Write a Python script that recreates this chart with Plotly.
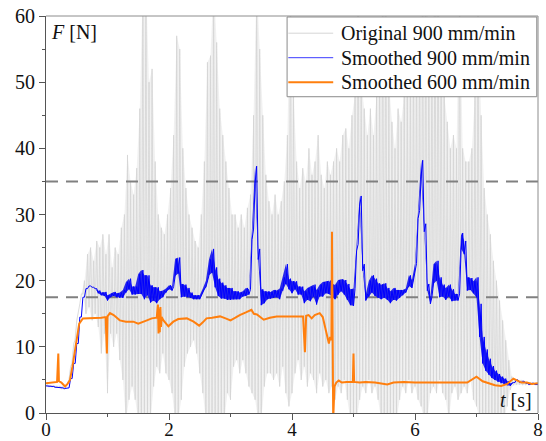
"""
Kuvvet - zaman grafigi: ham sinyal (900 mm/min) ve yumusatilmis egriler
"""

import numpy as np
import plotly.graph_objects as go

# Zaman izgarasi (0.05 s aralik) - gri ve mavi egriler icin
t_grid = np.round(np.arange(0, 8.0001, 0.05), 2)

# Ham sinyal zarfi (ust / alt)
gray_hi = [
    4.3, 4.2, 4.2, 4.1, 4.1, 4.0, 4.0, 5.0, 7.5, 11,
    15, 18, 20, 24, 25, 23, 26, 25, 27, 24,
    27, 22, 25, 24, 28, 30, 39, 35, 33, 37,
    46, 65, 65, 50, 52, 38, 30, 28, 27, 30,
    34, 42, 57, 55, 40, 34, 30, 28, 26, 25,
    30, 38, 53, 54, 65, 56, 46, 42, 38, 34,
    30, 30, 28, 30, 28, 31, 33, 45, 65, 55,
    45, 36, 32, 30, 33, 30, 32, 35, 42, 65,
    48, 38, 34, 37, 35, 40, 36, 38, 42, 36,
    34, 38, 36, 38, 40, 38, 42, 43, 40, 45,
    48, 65, 50, 46, 42, 46, 42, 48, 52, 65,
    65, 50, 44, 40, 46, 44, 48, 50, 52, 55,
    55, 58, 65, 65, 58, 56, 65, 65, 54, 48,
    44, 40, 42, 40, 65, 40, 38, 38, 40, 48,
    60, 45, 34, 30, 27, 23, 20, 17, 14, 11,
    8, 5.5, 5, 5, 5, 4.8, 4.6, 4.6, 4.5, 4.5,
    4.5,
]
gray_lo = [
    4.0, 3.9, 3.9, 3.8, 3.8, 3.6, 3.5, 4.5, 7, 10.5,
    14, 16.5, 18, 15, 16, 14, 15, 13, 9, 12,
    3, 12, 10, 12, 8, 5, -1, 2, 4, 2,
    -1, -1, -1, -1, -1, 4, 7, 6, 9, 6,
    5, 3, -1, -1, 2, 7, 9, 10, 11, 9,
    6, 3, -1, -1, -1, -1, -1, -1, -1, 3,
    2, 7, 8, 6, 8, 6, 4, 3, 2, -1,
    -1, 4, 6, 6, 5, 6, 4, 7, 3, 1,
    3, 6, 8, 5, 7, 4, 6, 5, 3, 6,
    4, 5, 3, 4, 2, 4, 3, 5, 2, -1,
    -1, -1, 2, 4, 3, 5, 3, 4, 2, -1,
    -1, -1, -1, -1, -1, 2, 4, 3, 5, 3,
    4, 2, 1, -1, -1, 3, 4, 3, 5, 3,
    2, -1, 3, 4, 2, 3, 4, 3, 5, 2,
    1, -1, -1, -1, -1, -1, -1, -1, -1, -1,
    1, 3.5, 4.2, 4.3, 4.3, 4.2, 4.2, 4.2, 4.3, 4.3,
    4.3,
]

# Yumusatilmis 900 mm/min: orta deger ve titresim genisligi
blue_mid = [
    4.1, 4.0, 4.0, 3.9, 3.9, 3.8, 3.7, 3.8, 5.2, 7.5,
    10.5, 14.5, 17.5, 18.8, 19.2, 19.0, 18.8, 18.3, 18.0, 18.0,
    17.4, 17.8, 18.0, 17.8, 17.8, 18.0, 19.0, 19.5, 18.5, 18.5,
    19.5, 19.8, 19.0, 19.3, 18.0, 18.0, 17.8, 17.8, 18.0, 18.5,
    19.0, 18.8, 22.0, 22.3, 18.5, 18.5, 18.2, 17.8, 17.5, 17.5,
    17.5, 18.5, 19.5, 22.0, 23.0, 20.5, 19.0, 18.5, 18.3, 18.0,
    18.0, 17.8, 17.8, 17.7, 18.0, 18.3, 18.3, 27.0, 36.0, 24.0,
    17.5, 17.5, 17.8, 17.8, 18.0, 18.0, 18.0, 19.5, 21.0, 19.5,
    19.0, 19.3, 18.5, 18.5, 17.5, 18.0, 18.0, 18.5, 17.5, 18.5,
    18.7, 19.0, 19.0, 18.5, 18.3, 19.0, 19.3, 19.0, 18.3, 17.5,
    17.5, 25.0, 32.0, 22.0, 17.5, 18.8, 19.5, 19.0, 18.5, 18.3,
    18.5, 18.0, 17.5, 18.0, 17.8, 18.0, 18.2, 18.5, 20.0, 19.5,
    22.0, 30.0, 37.0, 28.0, 19.0, 17.0, 21.0, 21.5, 19.0, 18.5,
    18.0, 18.5, 17.8, 17.5, 17.5, 26.0, 25.0, 19.5, 19.5, 19.0,
    19.0, 14.0, 9.5, 8.0, 7.0, 6.2, 5.7, 5.3, 5.0, 4.8,
    4.5, 4.3, 4.6, 5.0, 4.6, 4.8, 4.5, 4.3, 4.5, 4.3,
    4.3,
]
blue_fuzz = [
    0, 0, 0, 0, 0, 0, 0, 0, 0, 0,
    0, 0, 0, 0, 0, 0, 0, 0.2, 0.2, 0.3,
    0.4, 0.3, 0.3, 0.3, 0.4, 0.6, 0.8, 0.8, 0.6, 0.6,
    1.5, 1.8, 1.8, 1.5, 1.3, 1.0, 1.2, 0.6, 0.5, 0.3,
    0.3, 0.3, 1.3, 1.2, 1.0, 0.9, 0.7, 0.4, 0.3, 0.3,
    0.3, 0.3, 0.5, 1.2, 1.8, 1.5, 1.3, 1.2, 1.0, 0.9,
    0.9, 0.6, 0.6, 0.5, 0.4, 0.6, 0.4, 0.8, 1.3, 0.8,
    1.2, 0.9, 0.6, 0.5, 0.6, 0.5, 0.8, 1.0, 1.5, 0.8,
    0.9, 0.6, 0.6, 0.6, 0.9, 0.9, 1.1, 0.9, 1.1, 0.9,
    1.1, 0.9, 1.0, 0.9, 1.1, 1.1, 0.9, 1.1, 1.2, 1.2,
    1.3, 0.5, 0.8, 0.5, 0.5, 1.2, 1.3, 1.3, 1.1, 1.1,
    1.1, 0.9, 0.9, 0.9, 0.8, 0.6, 0.4, 0.3, 0.8, 0.6,
    0.6, 0.6, 1.2, 0.6, 0.5, 0.5, 1.5, 1.5, 1.5, 0.9,
    0.9, 0.9, 0.9, 0.5, 0.5, 1.2, 1.0, 1.0, 0.9, 0.9,
    1.5, 2.5, 2.0, 1.6, 1.2, 0.9, 0.7, 0.6, 0.5, 0.4,
    0.3, 0.2, 0, 0, 0, 0, 0, 0, 0, 0,
    0,
]

# Yumusatilmis 600 mm/min (duzensiz zaman noktalari)
orange_t = [
    0.00, 0.10, 0.18, 0.20, 0.21, 0.25, 0.31, 0.35, 0.39, 0.43,
    0.47, 0.51, 0.54, 0.60, 0.70, 0.80, 0.90, 0.97, 0.99, 1.00,
    1.04, 1.10, 1.20, 1.30, 1.42, 1.50, 1.57, 1.64, 1.72, 1.80,
    1.82, 1.83, 1.84, 1.85, 1.86, 1.87, 1.88, 1.91, 1.99, 2.07,
    2.15, 2.29, 2.40, 2.49, 2.55, 2.61, 2.70, 2.83, 2.92, 3.00,
    3.08, 3.15, 3.25, 3.34, 3.38, 3.43, 3.54, 3.64, 3.75, 3.85,
    3.91, 4.00, 4.10, 4.18, 4.21, 4.23, 4.27, 4.32, 4.37, 4.42,
    4.45, 4.50, 4.56, 4.60, 4.62, 4.64, 4.65, 4.66, 4.67, 4.69,
    4.72, 4.76, 4.81, 4.89, 4.99, 5.00, 5.01, 5.10, 5.20, 5.35,
    5.45, 5.55, 5.65, 5.82, 6.00, 6.20, 6.40, 6.63, 6.85, 7.00,
    7.10, 7.30, 7.40, 7.50, 7.60, 7.73, 7.82, 7.90, 8.00,
]
orange_f = [
    4.5, 4.6, 4.7, 9.0, 4.8, 4.6, 4.0, 4.4, 5.0, 7.0,
    9.5, 12.0, 13.5, 14.3, 14.3, 14.4, 14.4, 14.5, 9.0, 14.6,
    15.1, 14.8, 14.0, 13.8, 13.8, 13.5, 13.8, 14.0, 14.3, 14.4,
    16.4, 12.0, 15.8, 12.2, 16.0, 13.0, 14.5, 14.0, 13.1, 13.8,
    14.2, 14.3, 13.8, 13.2, 13.7, 14.3, 14.4, 14.6, 14.3, 14.0,
    14.4, 14.8, 15.2, 15.6, 15.0, 14.9, 14.1, 14.4, 14.6, 14.6,
    14.5, 14.6, 14.6, 14.6, 9.2, 14.7, 14.8, 14.3, 14.8, 15.0,
    15.1, 14.5, 12.0, 10.5, 11.5, 11.0, 27.4, 10.0, -1, 4.0,
    4.6, 4.9, 4.6, 4.7, 4.7, 9.0, 4.7, 4.6, 4.7, 4.6,
    4.4, 4.3, 4.6, 4.7, 4.6, 4.6, 4.5, 4.5, 4.6, 5.5,
    4.8, 4.2, 4.1, 4.4, 5.2, 4.6, 4.6, 4.4, 4.5,
]

# Referans seviyeleri (kesikli cizgiler)
ref_levels = [17.5, 35]

# Lejant metinleri ve renkleri
legend_names = ["Original 900 mm/min", "Smoothed 900 mm/min", "Smoothed 600 mm/min"]
legend_colors = ["#d6d6d6", "#3a3aff", "#ff7f0e"]
legend_widths = [1, 1, 2]

FONT = "Liberation Serif"
GRAY = "#d4d4d4"
BLUE = "#0000ff"
ORANGE = "#ff7f0e"


def zigzag(t, lo, hi, step=0.025):
    """Alt/ust zarf arasinda gidip gelen yogun cizgi olusturur"""
    xs, ys = [], []
    for ti, a, b in zip(t, lo, hi):
        xs += [ti, ti + step]
        ys += [a, b]
    return xs, ys


def band(t, lo, hi, step=0.025):
    """Zarf arasini dolduran kapali poligon"""
    xs = [ti + step for ti in t] + list(t)[::-1]
    ys = list(hi) + list(lo)[::-1]
    return xs, ys


fig = go.Figure()

# Ham sinyal: hafif dolgu + yogun cizgiler
px_, py_ = band(t_grid, gray_lo, gray_hi)
fig.add_trace(go.Scatter(
    x=px_, y=py_, mode="lines", fill="toself", showlegend=False,
    fillcolor="rgba(215,215,215,0.35)", line=dict(width=0),
))
gx, gy = zigzag(t_grid, gray_lo, gray_hi)
fig.add_trace(go.Scatter(
    x=gx, y=gy, mode="lines", showlegend=False,
    line=dict(color=GRAY, width=0.8),
))

for lvl in ref_levels:
    fig.add_trace(go.Scatter(
        x=[0, 8], y=[lvl, lvl], mode="lines", showlegend=False,
        line=dict(color="#808080", width=2, dash="12px,8px"),
    ))

# Yumusatilmis 900: titresim bandi + orta cizgi
b_lo = [m - f for m, f in zip(blue_mid, blue_fuzz)]
b_hi = [m + f for m, f in zip(blue_mid, blue_fuzz)]
bx, by = band(t_grid, b_lo, b_hi, step=0)
fig.add_trace(go.Scatter(
    x=bx, y=by, mode="lines", fill="toself", showlegend=False,
    fillcolor="rgba(20,20,235,0.9)", line=dict(width=0),
))
zx, zy = zigzag(t_grid, b_lo, b_hi)
fig.add_trace(go.Scatter(
    x=zx, y=zy, mode="lines", showlegend=False,
    line=dict(color=BLUE, width=1),
))

fig.add_trace(go.Scatter(
    x=orange_t, y=orange_f, mode="lines", showlegend=False,
    line=dict(color=ORANGE, width=2),
))

# Ust ve sag cerceve (daha acik gri)
shapes = [
    dict(type="line", xref="paper", yref="paper", x0=0, x1=1, y0=1, y1=1,
         line=dict(color="#8c8c8c", width=1), layer="above"),
    dict(type="line", xref="paper", yref="paper", x0=1, x1=1, y0=0, y1=1,
         line=dict(color="#8c8c8c", width=1), layer="above"),
]

# Elle cizilen lejant (satir araligi referansa uysun diye)
shapes.append(dict(type="rect", xref="x", yref="y", x0=3.92, x1=7.98, y0=47.8, y1=59.85,
                   fillcolor="white", line=dict(color="#8a8a8a", width=1), layer="above"))
annotations = []
row_y = [57.4, 53.7, 50.0]
for name, col, w, yy in zip(legend_names, legend_colors, legend_widths, row_y):
    shapes.append(dict(type="line", xref="x", yref="y", x0=3.94, x1=4.67, y0=yy, y1=yy,
                       line=dict(color=col, width=w), layer="above"))
    annotations.append(dict(x=4.77, y=yy, xref="x", yref="y", xanchor="left",
                            yanchor="middle", showarrow=False, text=name,
                            font=dict(family=FONT, size=20, color="#111111")))

annotations += [
    dict(x=0, y=60, xref="x", yref="y", xanchor="left", yanchor="top",
         xshift=3, yshift=-3, showarrow=False,
         text="<i>F</i> [N]", font=dict(family=FONT, size=20, color="#111111")),
    dict(x=8, y=0, xref="x", yref="y", xanchor="right", yanchor="bottom",
         xshift=-4, yshift=0, showarrow=False,
         text="<i>t</i> [s]", font=dict(family=FONT, size=20, color="#111111")),
]

fig.update_layout(
    width=546, height=441,
    margin=dict(l=46, r=8, t=16, b=28),
    paper_bgcolor="white", plot_bgcolor="white",
    font=dict(family=FONT, size=20, color="#111111"),
    showlegend=False,
    shapes=shapes,
    annotations=annotations,
)

fig.update_xaxes(
    range=[0, 8], dtick=2, showgrid=False, zeroline=False, automargin=False,
    showline=True, linecolor="#555555", linewidth=1, mirror=False,
    ticks="outside", ticklen=6, tickcolor="#555555", ticklabelstandoff=-7,
    tickfont=dict(family=FONT, size=19),
    minor=dict(ticks="outside", ticklen=3, dtick=1, tickcolor="#555555"),
)
fig.update_yaxes(
    range=[0, 60], dtick=10, showgrid=False, zeroline=False, automargin=False,
    showline=True, linecolor="#555555", linewidth=1, mirror=False,
    ticks="outside", ticklen=6, tickcolor="#555555",
    minor=dict(ticks="outside", ticklen=3, dtick=5, tickcolor="#555555"),
)

# Sayfa kenar boslugunu kaldir ki grafik pencereye tam otursun
fig.write_html("out.html", config={"displayModeBar": False},
               post_script="document.body.style.margin='0';")
